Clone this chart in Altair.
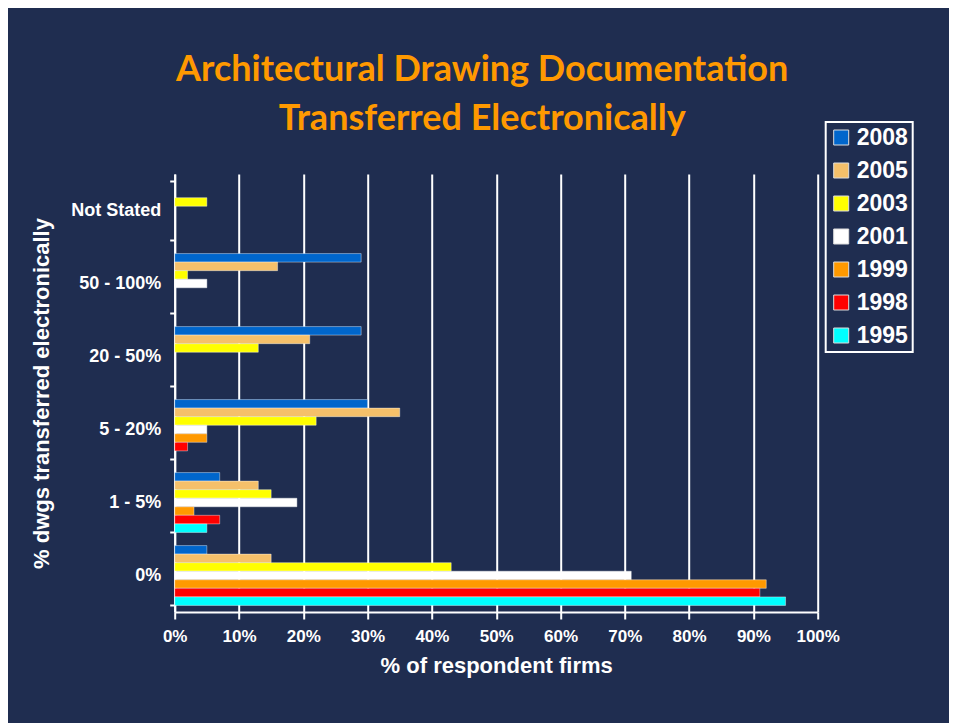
import altair as alt
import pandas as pd

categories = ["Not Stated", "50 - 100%", "20 - 50%", "5 - 20%", "1 - 5%", "0%"]
years = ["2008", "2005", "2003", "2001", "1999", "1998", "1995"]
colors = ["#0066CC", "#F5C06A", "#FFFF00", "#FFFFFF", "#FF9900", "#FF0000", "#00FFFF"]

# values per year, in category order (None = no bar)
v2008 = [None, 29, 29, 30, 7, 5]
v2005 = [None, 16, 21, 35, 13, 15]
v2003 = [5, 2, 13, 22, 15, 43]
v2001 = [None, 5, None, 5, 19, 71]
v1999 = [None, None, None, 5, 3, 92]
v1998 = [None, None, None, 2, 7, 91]
v1995 = [None, None, None, None, 5, 95]
x_ticks = [0, 10, 20, 30, 40, 50, 60, 70, 80, 90, 100]

series = dict(zip(years, [v2008, v2005, v2003, v2001, v1999, v1998, v1995]))
rows = []
for yr, vals in series.items():
    for cat, v in zip(categories, vals):
        if v is not None:
            rows.append({"category": cat, "year": yr, "value": v})
df = pd.DataFrame(rows)

BG = "#1F2D50"
FONT = "Liberation Sans"

chart = alt.Chart(df).mark_bar(
    stroke="#ffffff", strokeOpacity=0.4, strokeWidth=1
).encode(
    x=alt.X(
        "value:Q",
        scale=alt.Scale(domain=[0, 100], nice=False),
        axis=alt.Axis(
            values=x_ticks,
            labelExpr="datum.value + '%'",
            labelFlush=False,
            title="% of respondent firms",
            grid=True, gridColor="white", gridWidth=2,
            domainColor="white", domainWidth=2,
            tickColor="white", tickWidth=2, tickSize=7,
            labelColor="white", labelFont=FONT, labelFontSize=17,
            labelFontWeight="bold", labelPadding=9,
            titleColor="white", titleFont=FONT, titleFontSize=22,
            titleFontWeight="bold", titlePadding=11,
        ),
    ),
    y=alt.Y(
        "category:N",
        sort=categories,
        scale=alt.Scale(domain=categories, paddingInner=0.18, paddingOuter=0.09),
        axis=alt.Axis(
            title="% dwgs transferred electronically",
            tickBand="extent",
            grid=False,
            domainColor="white", domainWidth=2,
            tickColor="white", tickWidth=2, tickSize=5,
            labelColor="white", labelFont=FONT, labelFontSize=18,
            labelFontWeight="bold", labelPadding=9,
            titleColor="white", titleFont=FONT, titleFontSize=22,
            titleFontWeight="bold", titlePadding=17,
        ),
    ),
    yOffset=alt.YOffset("year:N", sort=years, scale=alt.Scale(domain=years)),
    color=alt.Color(
        "year:N",
        sort=years,
        scale=alt.Scale(domain=years, range=colors),
        legend=alt.Legend(
            title=None, orient="none", legendX=651, legendY=-52,
            strokeColor="white", padding=4,
            symbolType="square", symbolSize=225,
            symbolStrokeColor="#dddddd", symbolStrokeWidth=1,
            labelColor="white", labelFont=FONT, labelFontSize=23,
            labelFontWeight="bold", labelOffset=4, rowPadding=9,
        ),
    ),
).properties(
    width=643,
    height=438,
    title=alt.TitleParams(
        ["Architectural Drawing Documentation", "Transferred Electronically"],
        color="#FF9900", font="Comic Sans MS, Lato", fontSize=36,
        fontWeight="bold", anchor="middle", dx=-14, offset=-17, lineHeight=49,
    ),
    autosize=alt.AutoSizeParams(type="none"),
    padding={"left": 166.7, "top": 166, "right": 131.3, "bottom": 111},
).configure(
    background=BG,
).configure_legend(
    strokeWidth=2,
).configure_view(
    stroke=None,
)

chart.save("out.html", embed_options={"renderer": "svg", "actions": False})
